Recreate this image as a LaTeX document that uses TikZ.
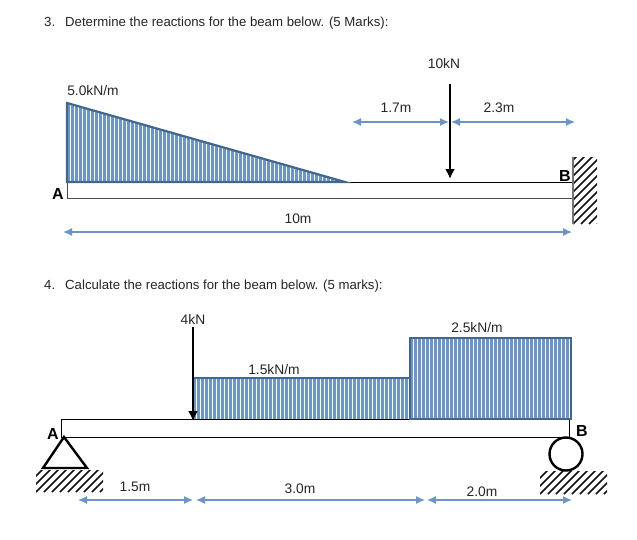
\documentclass[tikz,border=0pt]{standalone}
\usepackage{fontspec}
\setmainfont{Liberation Sans}
\definecolor{loadline}{HTML}{41668F}
\definecolor{loadfill}{HTML}{6C96CB}
\definecolor{dimline}{HTML}{6C95C6}
\definecolor{hatchink}{HTML}{111111}
\usetikzlibrary{arrows.meta}
\tikzset{
  txt/.style={inner sep=0pt,font=\fontsize{13.8}{16}\selectfont,text=black!85},
  ttl/.style={inner sep=0pt,font=\fontsize{13.2}{16}\selectfont,text=black!85},
  bold label/.style={inner sep=0pt,font=\bfseries\fontsize{16}{18}\selectfont},
  dim/.style={draw=dimline,line width=1.3pt,{Latex[length=9pt,width=8pt]}-{Latex[length=9pt,width=8pt]}},
  force/.style={draw=black,line width=2.8pt,-{Latex[length=10pt,width=10pt]},shorten >=0pt},
  beam/.style={draw=black,line width=0.9pt},
  loadedge/.style={draw=loadline,line width=2.2pt,line join=miter},
  support/.style={draw=black,line width=2.4pt}
}
\newcommand{\stripes}[2]{% x0, y-top
  \foreach \si in {0,...,75}{\fill[loadfill] ({#1+4*\si},#2) rectangle ++(2.6,100);}
}
\newcommand{\hatchbox}[4]{% x0,y0,x1,y1
  \begin{scope}
    \clip (#1,#2) rectangle (#3,#4);
    \foreach \hx in {-80,-72,...,90}{\draw[hatchink,line width=1.7pt] ({#1+\hx},#4) -- ++(80,-80);}
  \end{scope}
}
\begin{document}
\begin{tikzpicture}[x=1pt,y=-1pt]
\useasboundingbox[fill=white] (0,0) rectangle (637,539);
% titles
\node[ttl,anchor=west] (t3) at (44,23) {3.\hspace{10pt}Determine the reactions for the beam below. (5 Marks):};
\node[ttl,anchor=west] (t4) at (44,286) {4.\hspace{10pt}Calculate the reactions for the beam below. (5 marks):};
% ---- beam 1
\coordinate (t1a) at (67,103); \coordinate (t1b) at (67,182); \coordinate (t1c) at (345,182);
\begin{scope}
  \clip (t1a) -- (t1b) -- (t1c) -- cycle;
  \stripes{67}{100}
\end{scope}
\node[beam,draw=black!70,minimum width=505pt,minimum height=16pt,inner sep=0pt,anchor=north west] (b1) at (67,182) {};
\draw[beam] (t1c) -- (572,182);
\draw[loadedge] (t1a) -- (t1b) -- (t1c) -- cycle;
\hatchbox{573}{157}{597}{224}
\draw[draw=black!55,line width=1.2pt] (573,157) -- (573,224);
\coordinate (f1s) at (450,84); \coordinate (f1e) at (450,179);
\draw[force] (f1s) -- (f1e);
\coordinate (d1a) at (352,122); \coordinate (d1b) at (449,122); \coordinate (d1c) at (451,122); \coordinate (d1d) at (575,122);
\draw[dim] (d1a) -- (d1b);
\draw[dim] (d1c) -- (d1d);
\coordinate (d1e) at (63,232); \coordinate (d1f) at (572,232);
\draw[dim] (d1e) -- (d1f);
\node[txt] (l10kn) at (444,64) {10kN};
\node[txt] (l17) at (396,108) {1.7m};
\node[txt] (l23) at (499,108) {2.3m};
\node[txt] (l50) at (93,91) {5.0kN/m};
\node[txt] (l10m) at (298,219) {10m};
\node[bold label] (la1) at (58,194) {A};
\node[bold label] (lb1) at (565,176) {B};
% ---- beam 2
\begin{scope}
  \clip (193,378) rectangle (410,419);
  \stripes{193}{378}
\end{scope}
\begin{scope}
  \clip (410,338) rectangle (571,419);
  \stripes{410}{338}
\end{scope}
\draw[loadedge] (193,419) -- (193,378) -- (410,378);
\node[beam,draw=none,minimum width=508pt,minimum height=18pt,inner sep=0pt,anchor=north west] (b2) at (61,419) {};
\draw[beam] (b2.north east) ++(-159,0) -- (b2.north west) -- (b2.south west) -- (b2.south east) -- (b2.north east);
\draw[loadedge] (410,338) rectangle (571,419);
\coordinate (f2s) at (193,327); \coordinate (f2e) at (193,421);
\draw[force] (f2s) -- (f2e);
\coordinate (ta) at (64,437); \coordinate (tb) at (87,468); \coordinate (tc) at (43,468);
\hatchbox{36}{470}{103}{492}
\draw[support,line join=miter] (ta) -- (tb) -- (tc) -- cycle;
\hatchbox{540}{471}{607}{494}
\node[support,circle,minimum size=33pt,inner sep=0pt,fill=white] (roller) at (566,454) {};
\coordinate (d2a) at (78,500); \coordinate (d2b) at (193,500); \coordinate (d2c) at (196,500);
\coordinate (d2d) at (425,500); \coordinate (d2e) at (427,500); \coordinate (d2f) at (572,500);
\draw[dim] (d2a) -- (d2b);
\draw[dim] (d2c) -- (d2d);
\draw[dim] (d2e) -- (d2f);
\node[txt] (l4) at (193,319) {4kN};
\node[txt] (l15k) at (274,370) {1.5kN/m};
\node[txt] (l25k) at (477,328) {2.5kN/m};
\node[txt] (l15) at (135,487) {1.5m};
\node[txt] (l30) at (300,489) {3.0m};
\node[txt] (l20) at (482,492) {2.0m};
\node[bold label] (la2) at (53,434) {A};
\node[bold label] (lb2) at (582,431) {B};
\end{tikzpicture}
\end{document}
